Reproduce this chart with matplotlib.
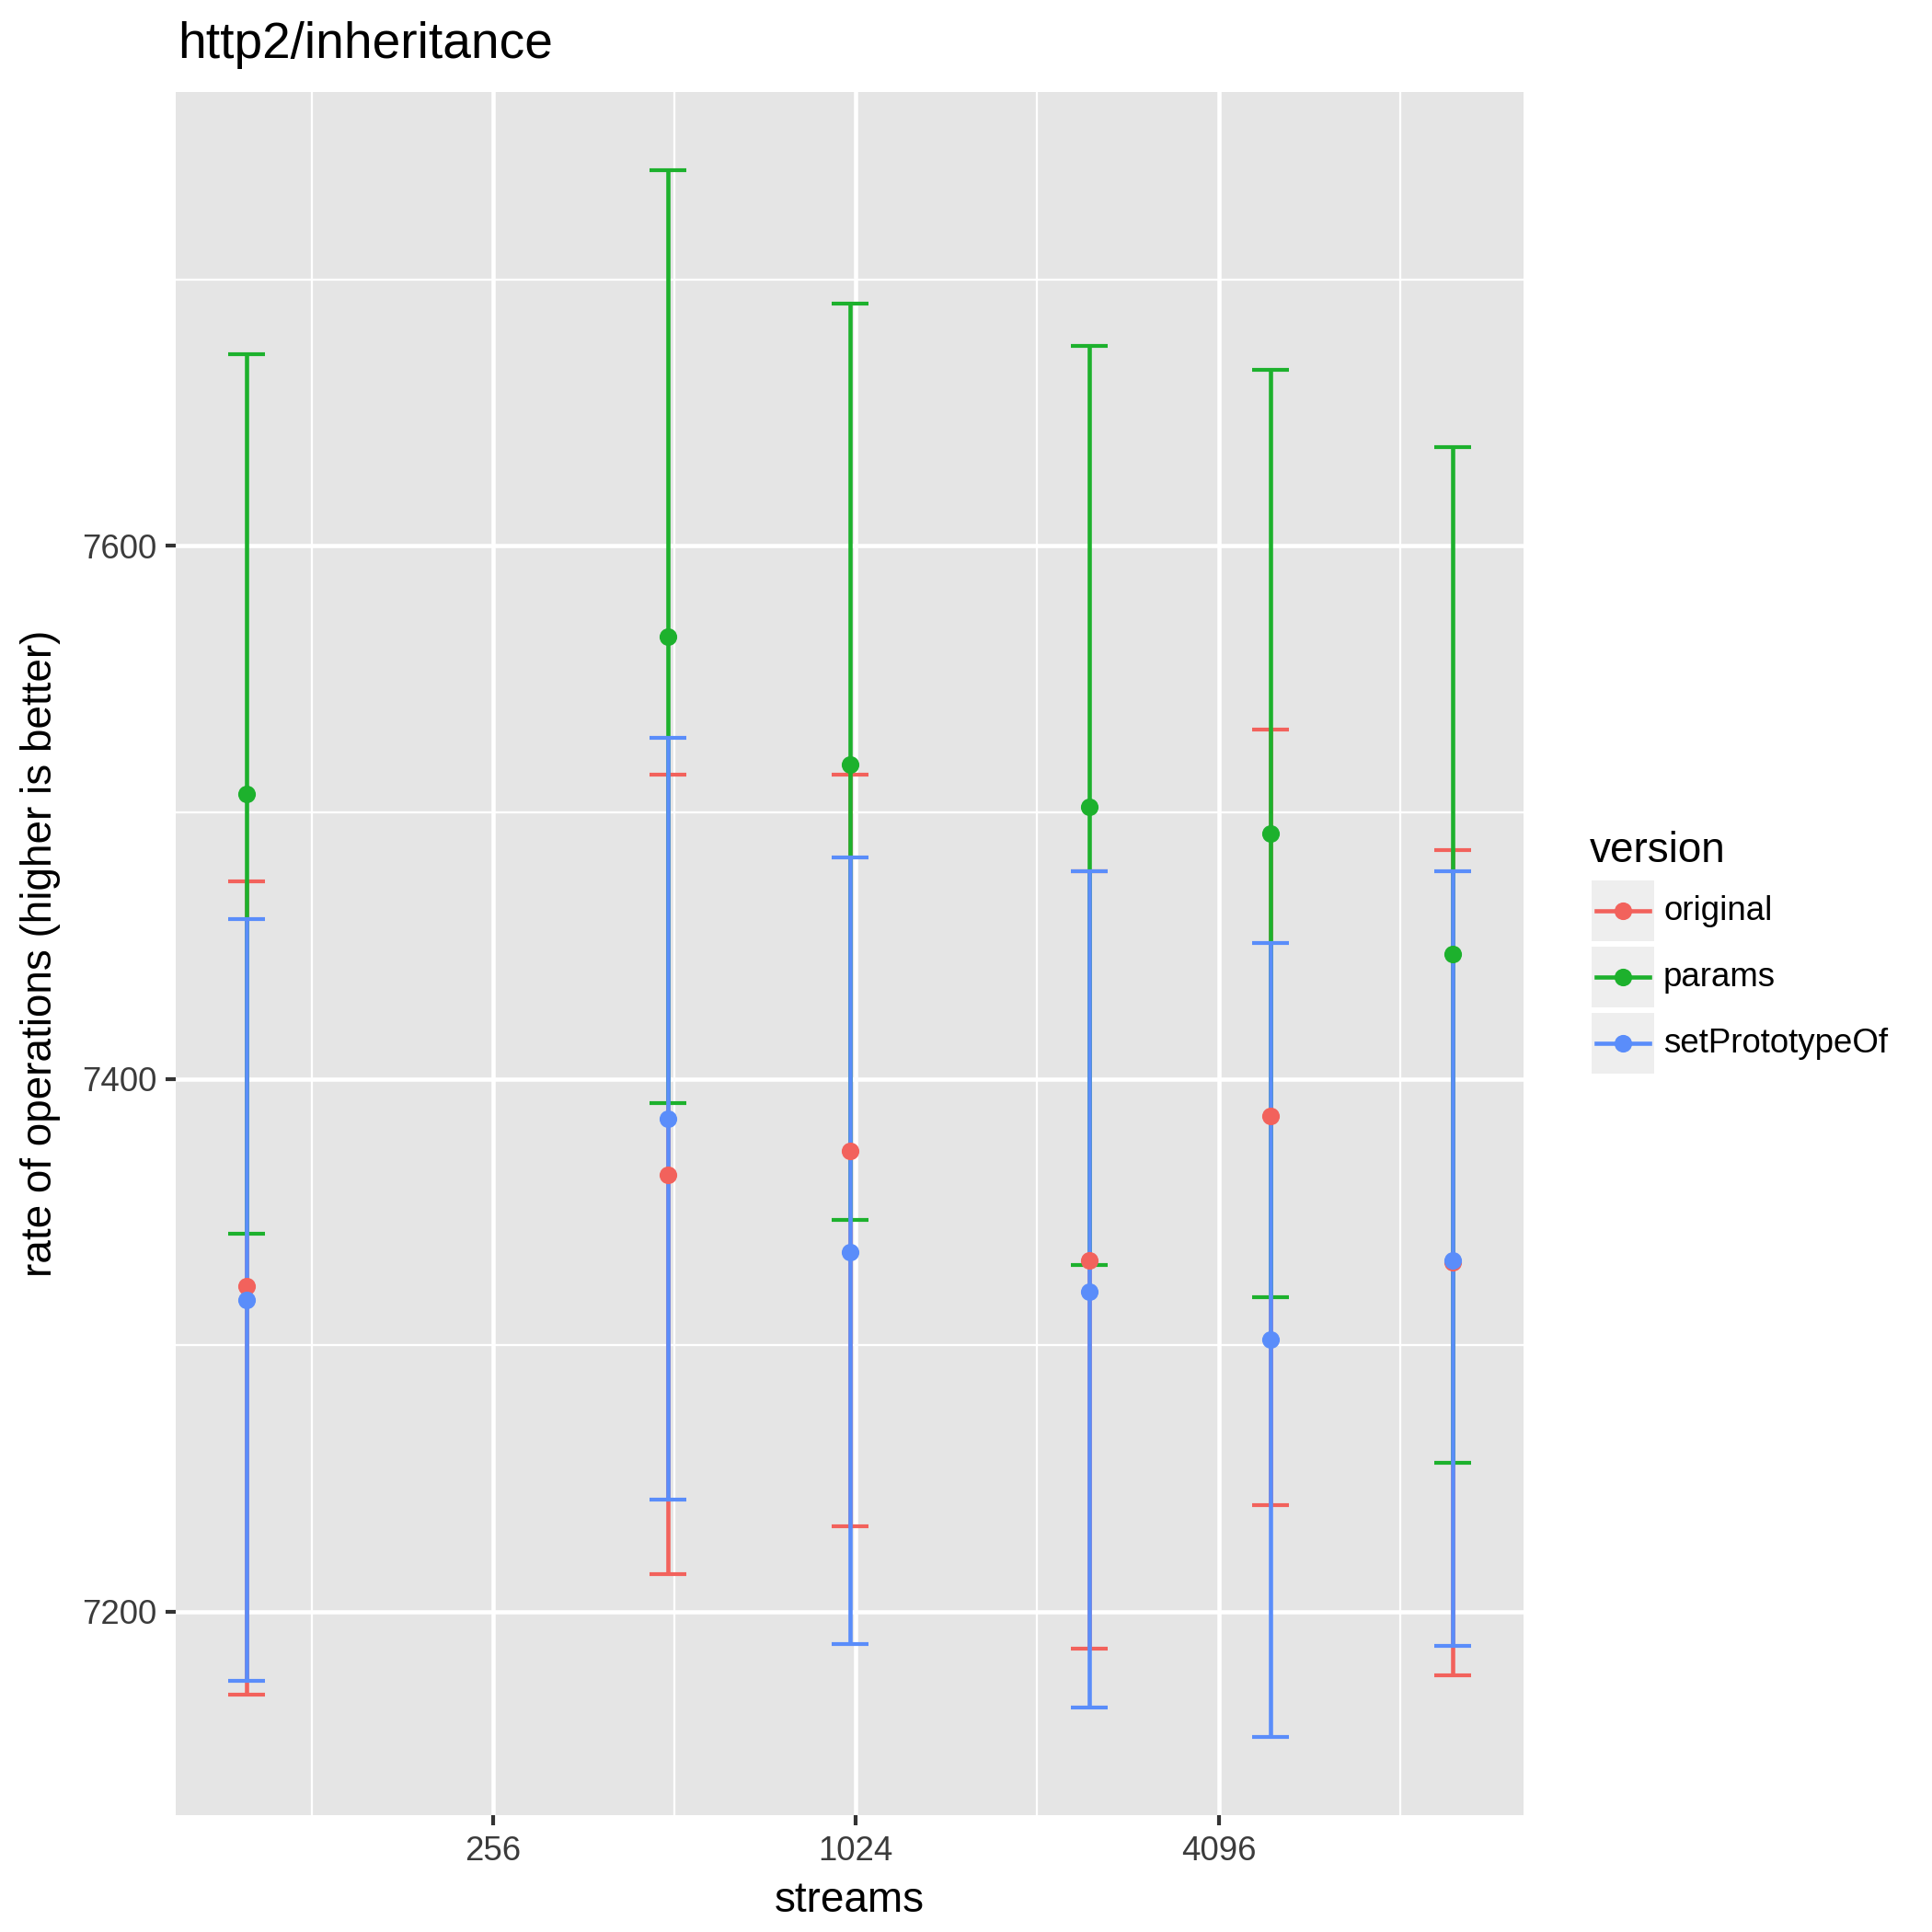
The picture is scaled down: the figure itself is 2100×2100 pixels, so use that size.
import numpy as np
import matplotlib
matplotlib.use("Agg")
import matplotlib.pyplot as plt
from matplotlib.patches import Rectangle
from matplotlib.ticker import FixedLocator, NullFormatter

plt.rcParams['font.family'] = ['Liberation Sans', 'DejaVu Sans']

# data
streams = [100, 500, 1000, 2500, 5000, 10000]
versions = ['original', 'params', 'setPrototypeOf']
colors = ['#F2625C', '#1DB12D', '#5A8DFA']

rate_original = [7322, 7364, 7373, 7332, 7386, 7331]
low_original = [7169, 7214, 7232, 7186, 7240, 7176]
high_original = [7474, 7514, 7514, 7478, 7531, 7486]

rate_params = [7507, 7566, 7518, 7502, 7492, 7447]
low_params = [7342, 7391, 7347, 7330, 7318, 7256]
high_params = [7672, 7741, 7691, 7675, 7666, 7637]

rate_setproto = [7317, 7385, 7335, 7320, 7302, 7332]
low_setproto = [7174, 7242, 7188, 7164, 7153, 7187]
high_setproto = [7460, 7528, 7483, 7478, 7451, 7478]

rates = [rate_original, rate_params, rate_setproto]
lows = [low_original, low_params, low_setproto]
highs = [high_original, high_params, high_setproto]

W = 2100.0
fig = plt.figure(figsize=(7, 7), dpi=300)
ax = fig.add_axes([191 / W, 1 - 1973 / W, (1656 - 191) / W, (1973 - 100) / W])
ax.set_facecolor('#E5E5E5')

# error bars first, points on top
for r, lo, hi, c in zip(rates, lows, highs, colors):
    r = np.array(r); lo = np.array(lo); hi = np.array(hi)
    ax.errorbar(streams, r, yerr=[r - lo, hi - r], fmt='none', ecolor=c,
                elinewidth=1.1, capsize=4.8, capthick=1.0, zorder=3)
for r, c in zip(rates, colors):
    ax.plot(streams, r, 'o', color=c, ms=4.6, mew=0, zorder=4)

ax.set_xscale('log', base=2)
lx0, lx1 = np.log2(min(streams)), np.log2(max(streams))
pad = 0.059 * (lx1 - lx0)
ax.set_xlim(2 ** (lx0 - pad), 2 ** (lx1 + pad))
ax.xaxis.set_major_locator(FixedLocator([256, 1024, 4096]))
ax.set_xticklabels(['256', '1024', '4096'])
ax.xaxis.set_minor_locator(FixedLocator([128, 512, 2048, 8192]))
ax.xaxis.set_minor_formatter(NullFormatter())

all_lo = min(min(l) for l in lows)
all_hi = max(max(h) for h in highs)
ypad = 0.05 * (all_hi - all_lo)
ax.set_ylim(all_lo - ypad, all_hi + ypad)
ax.yaxis.set_major_locator(FixedLocator([7200, 7400, 7600]))
ax.yaxis.set_minor_locator(FixedLocator([7300, 7500, 7700]))

ax.grid(which='major', color='white', lw=1.1)
ax.grid(which='minor', color='white', lw=0.55)
ax.set_axisbelow(True)
for s in ax.spines.values():
    s.set_visible(False)
ax.tick_params(which='major', length=2.75, width=1.0, color='#333333',
               labelcolor='#3B3B3B', labelsize=8.8)
ax.tick_params(axis='x', which='major', pad=2.5)
ax.tick_params(axis='y', which='major', pad=2.2)
ax.tick_params(which='minor', length=0)

ax.set_xlabel('streams', fontsize=11, labelpad=3.3)
ax.set_ylabel('rate of operations (higher is better)', fontsize=11, labelpad=5.5)
fig.text(193 / W, 1 - 63 / W, 'http2/inheritance', fontsize=13.2,
         ha='left', va='baseline')

# legend
fig.text(1728 / W, 1 - 937 / W, 'version', fontsize=11, ha='left', va='baseline')
key_y = [990, 1062, 1134]
for name, c, ky in zip(versions, colors, key_y):
    x0, w, h = 1730 / W, 68 / W, 66 / W
    fig.patches.append(Rectangle((x0, 1 - ky / W - h / 2), w, h, transform=fig.transFigure,
                                 facecolor='#EEEEEE', edgecolor='none'))
    fig.lines.append(plt.Line2D([1735 / W, 1793 / W], [1 - ky / W, 1 - ky / W],
                                transform=fig.transFigure, color=c, lw=1.1))
    fig.lines.append(plt.Line2D([1764 / W], [1 - ky / W], transform=fig.transFigure,
                                marker='o', ms=4.6, mew=0, color=c))
    fig.text(1808 / W, 1 - ky / W, name, fontsize=8.8, ha='left', va='center')

fig.savefig('out.png', dpi=300)
